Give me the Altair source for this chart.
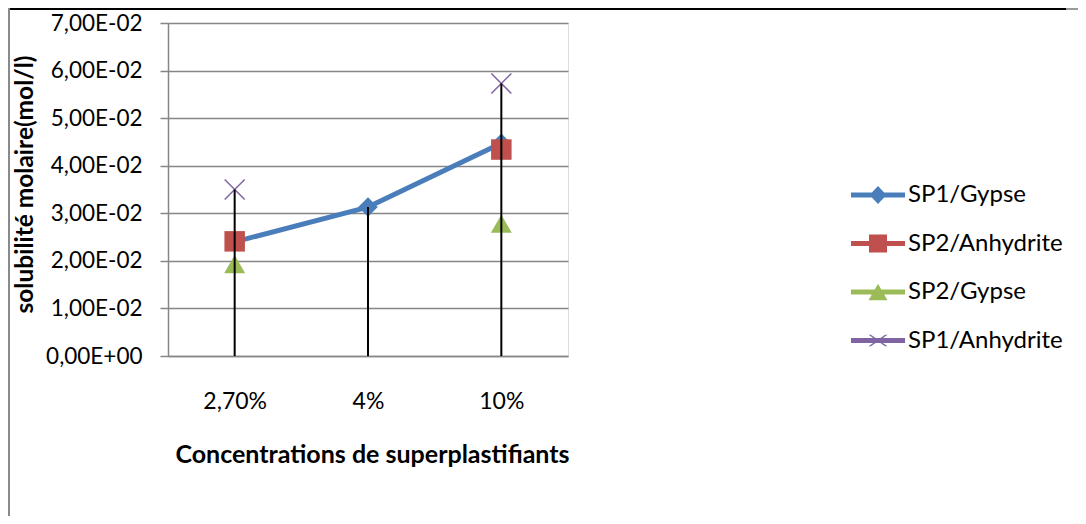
import altair as alt
import pandas as pd

categories = ["2,70%", "4%", "10%"]
series_names = ["SP1/Gypse", "SP2/Anhydrite", "SP2/Gypse", "SP1/Anhydrite"]
sp1_gypse = [2.40e-2, 3.13e-2, 4.47e-2]
sp2_anhydrite = [2.41e-2, None, 4.34e-2]
sp2_gypse = [1.93e-2, None, 2.78e-2]
sp1_anhydrite = [3.50e-2, None, 5.73e-2]
y_ticks = [0.0, 0.01, 0.02, 0.03, 0.04, 0.05, 0.06, 0.07]
y_tick_labels = ["0,00E+00", "1,00E-02", "2,00E-02", "3,00E-02",
                 "4,00E-02", "5,00E-02", "6,00E-02", "7,00E-02"]

colors = ["#4A7EBB", "#C0504D", "#9BBB59", "#8064A2"]

rows = []
for name, vals in zip(series_names, [sp1_gypse, sp2_anhydrite, sp2_gypse, sp1_anhydrite]):
    for c, v in zip(categories, vals):
        if v is not None:
            rows.append({"cat": c, "series": name, "value": v})
df = pd.DataFrame(rows)

FONT = "Lato"
label_expr = "[" + ",".join("'%s'" % s for s in y_tick_labels) + "][round(datum.value*100)]"

x_enc = alt.X("cat:N", sort=categories,
              scale=alt.Scale(type="point", domain=categories, padding=0.5),
              axis=alt.Axis(title="Concentrations de superplastifiants", labelAngle=0,
                            ticks=False, domainColor="#868686", domainWidth=1.5,
                            labelFont=FONT, labelFontSize=23, labelColor="black",
                            labelPadding=34, titleFont=FONT, titleFontSize=25,
                            titleFontWeight="bold", titleColor="black", titlePadding=29,
                            titleX=204, grid=False))
y_enc = alt.Y("value:Q",
              scale=alt.Scale(domain=[0, 0.07], nice=False, zero=True),
              axis=alt.Axis(title="solubilité molaire(mol/l)", values=y_ticks,
                            labelExpr=label_expr, grid=True, gridColor="#868686",
                            gridWidth=1.5, domainColor="#868686", domainWidth=1.5,
                            tickColor="#868686", tickWidth=1.5, tickSize=8,
                            labelFont=FONT, labelFontSize=22.5, labelColor="black",
                            labelPadding=18, titleFont=FONT, titleFontSize=24.5,
                            titleFontWeight="bold", titleColor="black", titlePadding=8,
                            titleY=161))

base = alt.Chart(df)

line = base.transform_filter(alt.datum.series == series_names[0]).mark_line(
    color=colors[0], strokeWidth=5, strokeJoin="round", strokeCap="round"
).encode(x=x_enc, y=y_enc)

pt_diamond = base.transform_filter(alt.datum.series == series_names[0]).mark_point(
    shape="diamond", filled=True, size=380, color=colors[0], opacity=1
).encode(x=x_enc, y=y_enc)
pt_square = base.transform_filter(alt.datum.series == series_names[1]).mark_point(
    shape="square", filled=True, size=420, color=colors[1], opacity=1
).encode(x=x_enc, y=y_enc)
pt_tri = base.transform_filter(alt.datum.series == series_names[2]).mark_point(
    shape="triangle-up", filled=True, size=441, color=colors[2], opacity=1
).encode(x=x_enc, y=y_enc)
pt_x = base.transform_filter(alt.datum.series == series_names[3]).mark_point(
    shape="M-1,-1L1,1M-1,1L1,-1", filled=False, size=400, color=colors[3],
    strokeWidth=1.5, opacity=1
).encode(x=x_enc, y=y_enc)

drop = base.transform_aggregate(vmax="max(value)", groupby=["cat"]).mark_rule(
    color="black", strokeWidth=2
).encode(x=x_enc, y=alt.Y("vmax:Q"), y2=alt.datum(0))

LINE = "M-2,-0.185H2V0.185H-2Z"
legend_paths = [
    LINE + "M0,-0.67L0.63,0L0,0.67L-0.63,0Z",
    LINE + "M-0.667,-0.667H0.667V0.667H-0.667Z",
    LINE + "M0,-0.615L0.7,0.615H-0.7Z",
    LINE + "M-0.705,-0.43L-0.525,-0.43L0.705,0.43L0.525,0.43Z"
           "M0.525,-0.43L0.705,-0.43L-0.525,0.43L-0.705,0.43Z",
]
leg = dict(title=None, orient="none", legendX=696.5, legendY=158.5, padding=0,
           symbolSize=729, symbolStrokeWidth=0, symbolOpacity=1, labelFont=FONT,
           labelFontSize=24, labelColor="black", labelOffset=16.5, rowPadding=22.5,
           labelLimit=400)
legend_layer = base.transform_filter("false").mark_point(filled=True, opacity=1).encode(
    x=x_enc, y=y_enc,
    color=alt.Color("series:N", scale=alt.Scale(domain=series_names, range=colors),
                    legend=alt.Legend(**leg)),
    shape=alt.Shape("series:N", scale=alt.Scale(domain=series_names, range=legend_paths),
                    legend=alt.Legend(**leg)),
)

frame = alt.Chart(alt.Data(values=[{}]))
top_black = frame.mark_rule(color="black", strokeWidth=2).encode(
    x=alt.value(-160), x2=alt.value(898), y=alt.value(-14))
top_grey = frame.mark_rule(color="#9a9a9a", strokeWidth=2).encode(
    x=alt.value(898), x2=alt.value(910), y=alt.value(-14))
left_grey = frame.mark_rule(color="#8a8a8a", strokeWidth=2).encode(
    x=alt.value(-159), y=alt.value(-15), y2=alt.value(493))

chart = alt.layer(
    top_black, top_grey, left_grey,
    line, pt_diamond, pt_square, pt_tri, pt_x, drop, legend_layer
).properties(
    width=400, height=333,
    autosize=alt.AutoSizeParams(type="none"),
    padding={"left": 160, "top": 15, "right": 510, "bottom": 160},
).configure_view(stroke=None).configure(background="white")

chart.save("out.html", embed_options={"renderer": "svg", "actions": False})
